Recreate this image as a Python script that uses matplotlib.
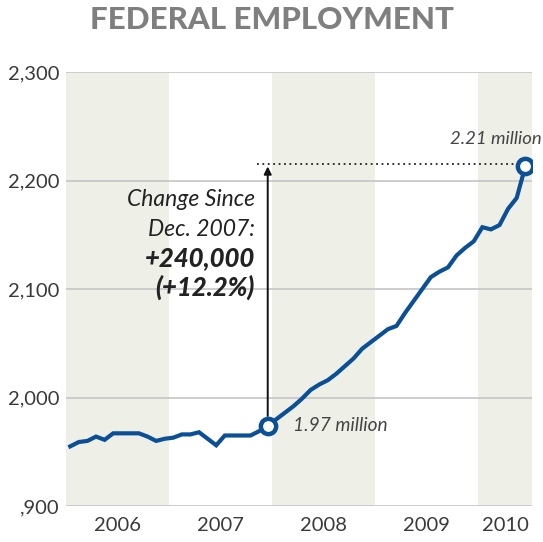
import matplotlib
matplotlib.use("Agg")
import matplotlib.pyplot as plt

# monthly federal employment (thousands), Jan 2006 - Jun 2010
years = [2006, 2007, 2008, 2009, 2010]
employment = [
    1955, 1959, 1960, 1964, 1961, 1967, 1967, 1967, 1967, 1964, 1960, 1962,
    1963, 1966, 1966, 1968, 1962, 1956, 1965, 1965, 1965, 1965, 1969, 1974,
    1980, 1986, 1992, 1999, 2007, 2012, 2016, 2022, 2029, 2036, 2045, 2051,
    2057, 2063, 2066, 2078, 2089, 2100, 2111, 2116, 2120, 2131, 2138, 2144,
    2157, 2155, 2159, 2174, 2184, 2213,
]
y_ticks = [1900, 2000, 2100, 2200, 2300]
y_labels = [",900", "2,000", "2,100", "2,200", "2,300"]
start_idx = 23  # Dec 2007

plt.rcParams["font.family"] = ["Lato", "DejaVu Sans"]

BLUE = "#0b4f96"
SHADE = "#eef0e8"
GRID = "#c9c9c9"
TEXT = "#222222"

fig = plt.figure(figsize=(5.43, 5.42), dpi=100)
ax = fig.add_axes([0.1215, 0.0664, 0.8585, 0.8006])

months = [i + 0.5 for i in range(len(employment))]
x_max = 54.3

# alternating year bands
centers = []
for k, yr in enumerate(years):
    x0 = k * 12
    x1 = min(x0 + 12, x_max)
    if k % 2 == 0:
        ax.axvspan(x0, x1, color=SHADE, lw=0, zorder=0)
    centers.append((x0 + x1) / 2)

for v in y_ticks:
    ax.axhline(v, color=GRID, lw=1.3, zorder=1)

ax.plot(months, employment, color=BLUE, lw=3.0, solid_joinstyle="miter", zorder=3)

start_val = employment[start_idx]
end_val = employment[-1]

# dotted reference line at final level
ax.plot([22.2, months[-1]], [end_val + 2, end_val + 2], color=TEXT, lw=1.3,
        linestyle=(0, (1, 2)), zorder=2)

# arrow from Dec 2007 up to final level
ax.annotate("", xy=(months[start_idx], end_val), xytext=(months[start_idx], start_val),
            arrowprops=dict(arrowstyle="-|>", color="#111111", lw=1.4,
                            mutation_scale=11, shrinkA=7, shrinkB=0), zorder=2)

for i in (start_idx, len(employment) - 1):
    ax.plot(months[i], employment[i], "o", ms=11, mfc="white", mec=BLUE, mew=3.2, zorder=4)

ax.text(22.0, 2183, "Change Since", ha="right", va="center", fontsize=16.5,
        style="italic", color=TEXT)
ax.text(22.0, 2155, "Dec. 2007:", ha="right", va="center", fontsize=16.5,
        style="italic", color=TEXT)
ax.text(22.0, 2129, "+240,000", ha="right", va="center", fontsize=18.5,
        style="italic", weight="black", color=TEXT)
ax.text(22.0, 2102, "(+12.2%)", ha="right", va="center", fontsize=18.5,
        style="italic", weight="black", color=TEXT)

ax.text(55.4, 2238, "2.21 million", ha="right", va="center", fontsize=13.3,
        style="italic", color="#444444", clip_on=False)
ax.text(26.4, 1973.8, "1.97 million", ha="left", va="center", fontsize=13.8,
        style="italic", color="#444444")

ax.set_xlim(0, x_max)
ax.set_ylim(1900, 2300)
ax.set_yticks(y_ticks)
ax.set_yticklabels(y_labels)
ax.set_xticks(centers)
ax.set_xticklabels([str(y) for y in years])
ax.tick_params(axis="both", length=0, labelsize=14.5, labelcolor="#3a3a3a")
ax.tick_params(axis="y", pad=5)
ax.tick_params(axis="x", pad=8)
for spine in ax.spines.values():
    spine.set_visible(False)

fig.text(0.5, 0.963, "FEDERAL EMPLOYMENT", ha="center", va="center",
         fontsize=22.5, weight="black", color="#7f7f80")

fig.savefig("out.png", dpi=100)
